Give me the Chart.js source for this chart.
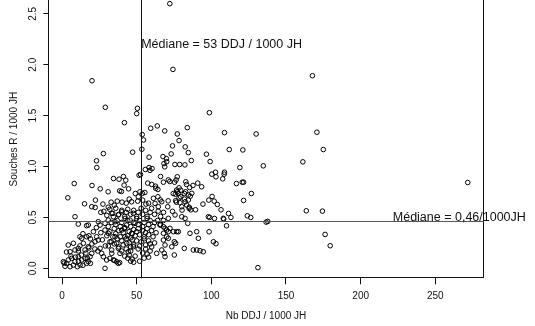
<!DOCTYPE html>
<html>
<head>
<meta charset="utf-8">
<script src="https://cdn.jsdelivr.net/npm/chart.js@4/dist/chart.umd.min.js"></script>
<style>
html, body { margin: 0; padding: 0; background: #fff; }
</style>
</head>
<body>
<canvas id="chart" width="535" height="326"></canvas>
<script>
var xTicks = [0, 50, 100, 150, 200, 250];
var yTicks = [0, 0.5, 1, 1.5, 2, 2.5];
var medianDDJ = 53;
var medianSouches = 0.46;
var medianDDJLabel = 'Médiane = 53 DDJ / 1000 JH';
var medianSouchesLabel = 'Médiane = 0,46/1000JH';

// [DDJ, souches R]
var pointsHigh = [
    [72.2,2.60],[74.3,1.954],[20.1,1.843],[167.7,1.892],[29.0,1.582],[50.5,1.572],[50.0,1.520],
    [41.8,1.431],[98.7,1.529],[63.8,1.399],[59.4,1.376],[83.9,1.382],[68.8,1.350],[77.2,1.320],
    [53.7,1.314],[54.6,1.261],[108.8,1.333],[130.0,1.320],[170.7,1.337],[78.4,1.255],[74.0,1.203],
    [82.5,1.193],[53.5,1.170],[112.0,1.167],[121.1,1.163],[175.0,1.167],[47.3,1.141],[27.7,1.127],
    [84.6,1.137],[96.7,1.121],[73.1,1.124],[58.3,1.092],[67.6,1.098],[69.9,1.078],[86.6,1.059],
    [23.1,1.056],[99.2,1.049],[161.3,1.046],[68.3,1.029],[70.1,1.047],[75.6,1.020],[78.8,1.020],
    [82.3,1.016],[134.8,1.007]
];

var pointsMid = [
    [23.3,0.990],[119.1,0.990],[58.3,0.990],[60.3,0.980],[55.8,0.971],[58.9,0.962],[68.8,0.997],
    [102.8,0.944],[108.8,0.944],[100.3,0.925],[52.6,0.922],[66.0,0.902],[41.1,0.902],[77.2,0.899],
    [51.6,0.915],[108.6,0.925],[103.1,0.899],[42.7,0.866],[38.2,0.876],[34.5,0.882],[82.9,0.850],
    [72.2,0.853],[75.4,0.846],[67.9,0.846],[71.2,0.868],[76.4,0.868],[107.6,0.879],[120.7,0.846],
    [121.6,0.846],[116.8,0.833],[90.9,0.837],[271.7,0.843],[8.2,0.833],[20.1,0.814],[41.6,0.817],
    [57.4,0.837],[60.1,0.824],[62.6,0.807],[62.8,0.786],[83.4,0.824],[87.7,0.814],[93.5,0.801],
    [85.5,0.794],[78.4,0.791],[25.6,0.781],[44.6,0.781],[38.6,0.761],[39.8,0.755],[30.9,0.752],
    [64.2,0.775],[79.5,0.768],[76.8,0.769],[77.2,0.752],[82.8,0.752],[55.5,0.745],[52.2,0.752],
    [53.8,0.737],[49.1,0.735],[126.8,0.735],[74.5,0.735],[77.9,0.737],[86.9,0.737],[75.9,0.729],
    [82.0,0.735],[84.6,0.720],[85.9,0.709],[100.5,0.706],[64.2,0.703],[51.1,0.703],[79.5,0.703],
    [3.9,0.693],[22.4,0.670],[78.4,0.693],[61.2,0.688],[82.0,0.680],[98.3,0.670],[121.6,0.667],
    [65.8,0.673],[71.1,0.663],[76.1,0.664],[84.6,0.671],[50.7,0.660],[46.6,0.654],[40.2,0.650],
    [101.9,0.660],[82.5,0.654],[76.6,0.650],[66.8,0.654],[79.0,0.644],[62.3,0.638],[15.1,0.634],
    [27.4,0.631],[32.9,0.650],[104.0,0.627],[94.4,0.631],[56.2,0.631],[83.5,0.622],[19.9,0.605],
    [22.2,0.598],[70.8,0.605],[64.5,0.605],[80.2,0.605],[85.2,0.601],[35,0.62],[37,0.66],[43,0.64],
    [45,0.68],[58,0.64],[54,0.67]
];

var pointsRight = [
    [85.1,0.589],[89.4,0.575],[106.5,0.575],[163.6,0.565],[174.4,0.562],[80.4,0.572],[86.2,0.575],
    [64.4,0.562],[111.5,0.539],[124.1,0.516],[126.4,0.500],[113.1,0.500],[108.3,0.484],[98.9,0.500],
    [102.1,0.490],[98.0,0.507],[108.0,0.491],[71.2,0.491],[75.7,0.524],[80.2,0.507],[82.4,0.491],
    [84.2,0.442],[136.7,0.454],[137.8,0.461],[110.2,0.418],[98.5,0.359],[90.2,0.360],[85.7,0.344],
    [91.3,0.295],[101.4,0.261],[103.1,0.242],[65.6,0.425],[67.9,0.409],[69.0,0.393],[70.1,0.376],
    [71.2,0.360],[72.3,0.393],[74.6,0.360],[76.8,0.360],[77.9,0.360],[67.9,0.344],[70.1,0.310],
    [71.2,0.295],[67.9,0.278],[75.2,0.261],[76.1,0.246],[73.5,0.212],[81.9,0.196],[69.0,0.229],
    [66.8,0.180],[63.4,0.147],[68.5,0.147],[69.0,0.114],[75.2,0.131],[87.9,0.180],[90.2,0.180],
    [92.4,0.173],[94.6,0.163],[176.2,0.333],[179.6,0.222],[131.2,0.007],[74,0.56],[68,0.55],
    [66,0.51],[64,0.47],[68,0.47],[66,0.43]
];

var pointsCenter = [
    [50,0.49],[51,0.43],[52,0.47],[54,0.41],[55,0.45],[57,0.49],[58,0.43],[59,0.47],[61,0.41],
    [62,0.45],[50,0.51],[51,0.55],[53,0.59],[54,0.53],[56,0.57],[57,0.51],[59,0.55],[60,0.59],
    [62,0.53],[49,0.32],[50,0.36],[51,0.39],[52,0.33],[54,0.37],[55,0.31],[56,0.35],[57,0.39],
    [58,0.33],[60,0.37],[61,0.31],[63,0.35],[50,0.27],[52,0.22],[53,0.26],[55,0.29],[56,0.23],
    [58,0.27],[59,0.24],[60,0.21],[62,0.25],[49,0.12],[51,0.19],[54,0.15],[56,0.19],[57,0.14],
    [59,0.17],[58,0.11],[52,0.07],[55,0.10]
];

var pointsLeft = [
    [8.7,0.507],[10.9,0.435],[16.5,0.419],[17.6,0.425],[24.3,0.458],[25.5,0.425],[28.8,0.442],
    [31,0.474],[33.3,0.54],[34.4,0.507],[35.5,0.458],[37.7,0.524],[40,0.556],[42.2,0.491],
    [43.3,0.425],[45.5,0.474],[47.8,0.54],[48.9,0.442],[4.2,0.229],[7.6,0.246],[8.7,0.18],
    [5.4,0.163],[10.9,0.196],[13.2,0.295],[14.3,0.246],[15.4,0.18],[16.5,0.31],[17.6,0.212],
    [19.9,0.147],[22.1,0.261],[23.2,0.31],[24.3,0.278],[25.5,0.196],[26.6,0.147],[28.8,0.376],
    [31,0.344],[32.1,0.261],[33.3,0.18],[35.5,0.31],[36.6,0.246],[37.7,0.196],[38.8,0.147],
    [40,0.376],[42.2,0.31],[43.3,0.246],[44.4,0.163],[46.7,0.344],[47.8,0.212],[0.9,0.065],
    [3.1,0.049],[4.2,0.082],[5.4,0.016],[6.5,0.098],[7.6,0.032],[8.7,0.065],[10.9,0.114],
    [12.1,0.032],[13.2,0.082],[15.4,0.098],[16.5,0.049],[17.6,0.065],[18.8,0.114],[27.7,0.114],
    [29.9,0.082],[32.1,0.098],[34.4,0.082],[36.6,0.065],[37.7,0.049],[28.8,0.0],[33.3,0.147],
    [30,0.52],[32,0.58],[34,0.54],[36,0.59],[38,0.53],[40,0.57],[42,0.51],[43,0.55],[44,0.58],
    [46,0.53],[48,0.57],[31,0.41],[33,0.45],[36,0.43],[37,0.47],[39,0.41],[40,0.45],[42,0.40],
    [44,0.47],[46,0.41],[48,0.45],[30,0.32],[32,0.36],[34,0.31],[35,0.39],[36,0.34],[38,0.37],
    [39,0.31],[41,0.35],[42,0.39],[44,0.32],[45,0.36],[46,0.30],[47,0.34],[48,0.38],[31,0.22],
    [33,0.26],[35,0.24],[37,0.29],[38,0.21],[40,0.27],[41,0.23],[43,0.29],[45,0.25],[46,0.21],
    [47,0.28],[48,0.23],[40,0.17],[42,0.12],[43,0.19],[46,0.17],[44,0.10],[46,0.07],[47,0.09],
    [48,0.06],[45,0.13],[3,0.16],[6,0.12],[9,0.11],[11,0.17],[12,0.22],[13,0.13],[16,0.15],
    [18,0.20],[20,0.24],[21,0.36],[23,0.40],[26,0.35],[19,0.29],[14,0.34],[12,0.31],[18,0.32],
    [27,0.28],[28,0.56],[26,0.55],[31,0.60],[29,0.22],[22,0.19],[24,0.17],[17,0.10],[14,0.03],
    [11,0.07],[2,0.02],[1.4,0.052],[10.3,0.016],[19.0,0.049],[38.6,0.056],[35.2,0.078]
];

var textFont = '"Liberation Sans", Arial, Helvetica, sans-serif';
var ink = '#111';

var rPlotDecor = {
    id: 'rPlotDecor',
    afterDatasetsDraw: function(chart) {
        var ctx = chart.ctx;
        var area = chart.chartArea;
        var xs = chart.scales.x;
        var ys = chart.scales.y;
        ctx.save();
        ctx.lineWidth = 1;
        ctx.strokeStyle = ink;
        // box, top edge falls outside the picture
        ctx.strokeRect(Math.round(area.left) + 0.5, -10.5, Math.round(area.right - area.left), Math.round(area.bottom) + 10);

        var mx = Math.round(xs.getPixelForValue(medianDDJ)) + 0.5;
        ctx.beginPath();
        ctx.moveTo(mx, 0);
        ctx.lineTo(mx, area.bottom);
        ctx.stroke();

        var my = ys.getPixelForValue(medianSouches);
        ctx.strokeStyle = '#555';
        ctx.beginPath();
        ctx.moveTo(area.left, my);
        ctx.lineTo(area.right, my);
        ctx.stroke();
        ctx.restore();
    },
    afterDraw: function(chart) {
        var ctx = chart.ctx;
        var xs = chart.scales.x;
        var ys = chart.scales.y;
        ctx.save();
        ctx.fillStyle = ink;
        ctx.font = '10px ' + textFont;
        ctx.textAlign = 'center';
        ctx.textBaseline = 'middle';
        ys.ticks.forEach(function(t) {
            ctx.save();
            ctx.translate(33.5, ys.getPixelForValue(t.value));
            ctx.rotate(-Math.PI / 2);
            ctx.fillText(t.value.toFixed(1), 0, 0);
            ctx.restore();
        });

        ctx.font = '12.5px ' + textFont;
        ctx.textAlign = 'left';
        ctx.fillText(medianDDJLabel, xs.getPixelForValue(medianDDJ), ys.getPixelForValue(2.2));
        ctx.fillText(medianSouchesLabel, xs.getPixelForValue(221.5), ys.getPixelForValue(0.5));
        ctx.restore();
    }
};

var toXY = function(p) {
    return {x: p[0], y: p[1]};
};

var initChart = function() {
    var allPoints = pointsHigh.concat(pointsMid, pointsRight, pointsCenter, pointsLeft).map(toXY);

    new Chart(document.getElementById('chart'), {
        type: 'scatter',
        data: {
            datasets: [{
                data: allPoints,
                pointStyle: 'circle',
                pointRadius: 2.3,
                borderWidth: 1,
                borderColor: '#000',
                backgroundColor: 'rgba(0,0,0,0)'
            }]
        },
        options: {
            responsive: false,
            animation: false,
            devicePixelRatio: 1,
            events: [],
            layout: {autoPadding: false, padding: {left: 0, right: 51.3, top: 0, bottom: 0}},
            plugins: {legend: {display: false}, tooltip: {enabled: false}},
            scales: {
                x: {
                    type: 'linear',
                    min: -9.18,
                    max: 282.4,
                    afterBuildTicks: function(scale) {
                        scale.ticks = xTicks.map(function(v) { return {value: v}; });
                    },
                    afterFit: function(scale) { scale.height = 47.7; },
                    border: {display: false},
                    grid: {drawOnChartArea: false, drawTicks: true, tickLength: 6, color: ink},
                    ticks: {
                        color: ink,
                        font: {family: textFont, size: 10},
                        padding: 6.4,
                        maxRotation: 0,
                        autoSkip: false,
                        callback: function(v) { return String(v); }
                    },
                    title: {
                        display: true,
                        text: 'Nb DDJ / 1000 JH',
                        color: ink,
                        font: {family: textFont, size: 10},
                        padding: {top: 0, bottom: 3.3}
                    }
                },
                y: {
                    type: 'linear',
                    min: -0.098,
                    max: 2.636,
                    afterBuildTicks: function(scale) {
                        scale.ticks = yTicks.map(function(v) { return {value: v}; });
                    },
                    afterFit: function(scale) { scale.width = 48.3; },
                    border: {display: false},
                    grid: {drawOnChartArea: false, drawTicks: true, tickLength: 5, color: ink},
                    ticks: {display: false},
                    title: {
                        display: true,
                        text: 'Souches R / 1000 JH',
                        color: ink,
                        font: {family: textFont, size: 10},
                        padding: {top: 8, bottom: 0}
                    }
                }
            }
        },
        plugins: [rPlotDecor]
    });
};

window.onload = initChart;
</script>
</body>
</html>
